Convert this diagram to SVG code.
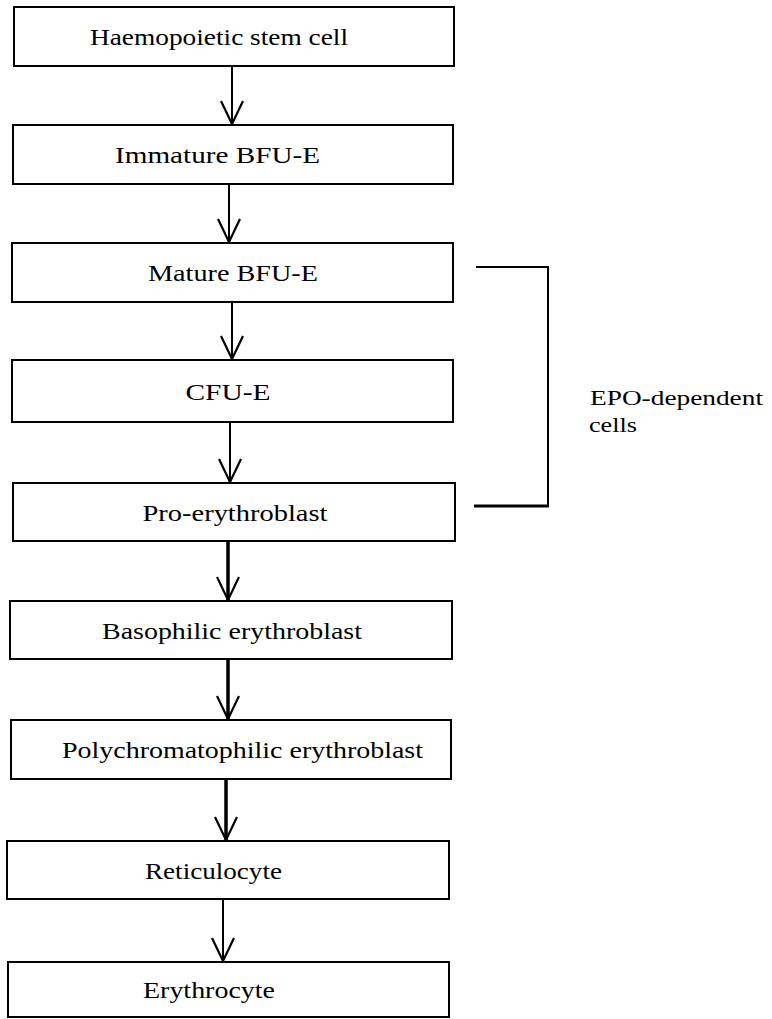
<svg xmlns="http://www.w3.org/2000/svg" width="772" height="1019" viewBox="0 0 772 1019">
<style>
.box{fill:#fff;stroke:#000;stroke-width:2}
.lbl{font-family:"Liberation Serif","Times New Roman",serif;font-size:23px;fill:#000;text-anchor:middle}
.side{font-family:"Liberation Serif","Times New Roman",serif;font-size:22px;fill:#000}
.ln{stroke:#000;stroke-width:2;fill:none;marker-end:url(#v)}
.lnb{stroke:#000;stroke-width:3.5;fill:none;marker-end:url(#v)}
.br{stroke:#000;stroke-width:2;fill:none}
</style>
<defs>
<marker id="v" markerUnits="userSpaceOnUse" viewBox="-26 -14 29 28" refX="0" refY="0" markerWidth="29" markerHeight="28" orient="auto">
<path d="M-23,-11 L0,0 L-23,11" fill="none" stroke="#000" stroke-width="2.2"/>
</marker>
</defs>
<rect width="772" height="1019" fill="#fff"/>
<g id="connectors">
<line class="ln" x1="232" y1="66" x2="232" y2="124"/>
<line class="ln" x1="229" y1="184" x2="229" y2="242"/>
<line class="ln" x1="232" y1="302" x2="232" y2="359"/>
<line class="ln" x1="230" y1="422" x2="230" y2="482"/>
<line class="lnb" x1="228" y1="541" x2="228" y2="600"/>
<line class="lnb" x1="228" y1="659" x2="228" y2="719"/>
<line class="lnb" x1="226" y1="779" x2="226" y2="840"/>
<line class="ln" x1="223" y1="899" x2="223" y2="961"/>
<g id="bracket">
<polyline class="br" points="476,267 548,267 548,506"/>
<line x1="474" y1="506" x2="549" y2="506" stroke="#000" stroke-width="3"/>
</g>
</g>
<g id="n1"><rect class="box" x="14" y="7" width="440" height="59"/><text class="lbl" x="219" y="45" textLength="258" lengthAdjust="spacingAndGlyphs">Haemopoietic stem cell</text></g>
<g id="n2"><rect class="box" x="13" y="125" width="440" height="59"/><text class="lbl" x="217.5" y="163" textLength="205" lengthAdjust="spacingAndGlyphs">Immature BFU-E</text></g>
<g id="n3"><rect class="box" x="12" y="243" width="441" height="59"/><text class="lbl" x="233" y="281" textLength="170" lengthAdjust="spacingAndGlyphs">Mature BFU-E</text></g>
<g id="n4"><rect class="box" x="12" y="360" width="441" height="62"/><text class="lbl" x="228" y="400" textLength="85" lengthAdjust="spacingAndGlyphs">CFU-E</text></g>
<g id="n5"><rect class="box" x="13" y="483" width="442" height="58"/><text class="lbl" x="235" y="521" textLength="185" lengthAdjust="spacingAndGlyphs">Pro-erythroblast</text></g>
<g id="n6"><rect class="box" x="10" y="601" width="442" height="58"/><text class="lbl" x="232" y="639" textLength="260" lengthAdjust="spacingAndGlyphs">Basophilic erythroblast</text></g>
<g id="n7"><rect class="box" x="11" y="720" width="440" height="59"/><text class="lbl" x="242.5" y="758" textLength="361" lengthAdjust="spacingAndGlyphs">Polychromatophilic erythroblast</text></g>
<g id="n8"><rect class="box" x="7" y="841" width="442" height="58"/><text class="lbl" x="213.5" y="879" textLength="137" lengthAdjust="spacingAndGlyphs">Reticulocyte</text></g>
<g id="n9"><rect class="box" x="8" y="962" width="441" height="55"/><text class="lbl" x="209" y="998" textLength="132" lengthAdjust="spacingAndGlyphs">Erythrocyte</text></g>
<g id="epo-label">
<text class="side" x="590" y="405" textLength="173" lengthAdjust="spacingAndGlyphs">EPO-dependent</text>
<text class="side" x="589" y="432" textLength="48" lengthAdjust="spacingAndGlyphs">cells</text>
</g>
</svg>
